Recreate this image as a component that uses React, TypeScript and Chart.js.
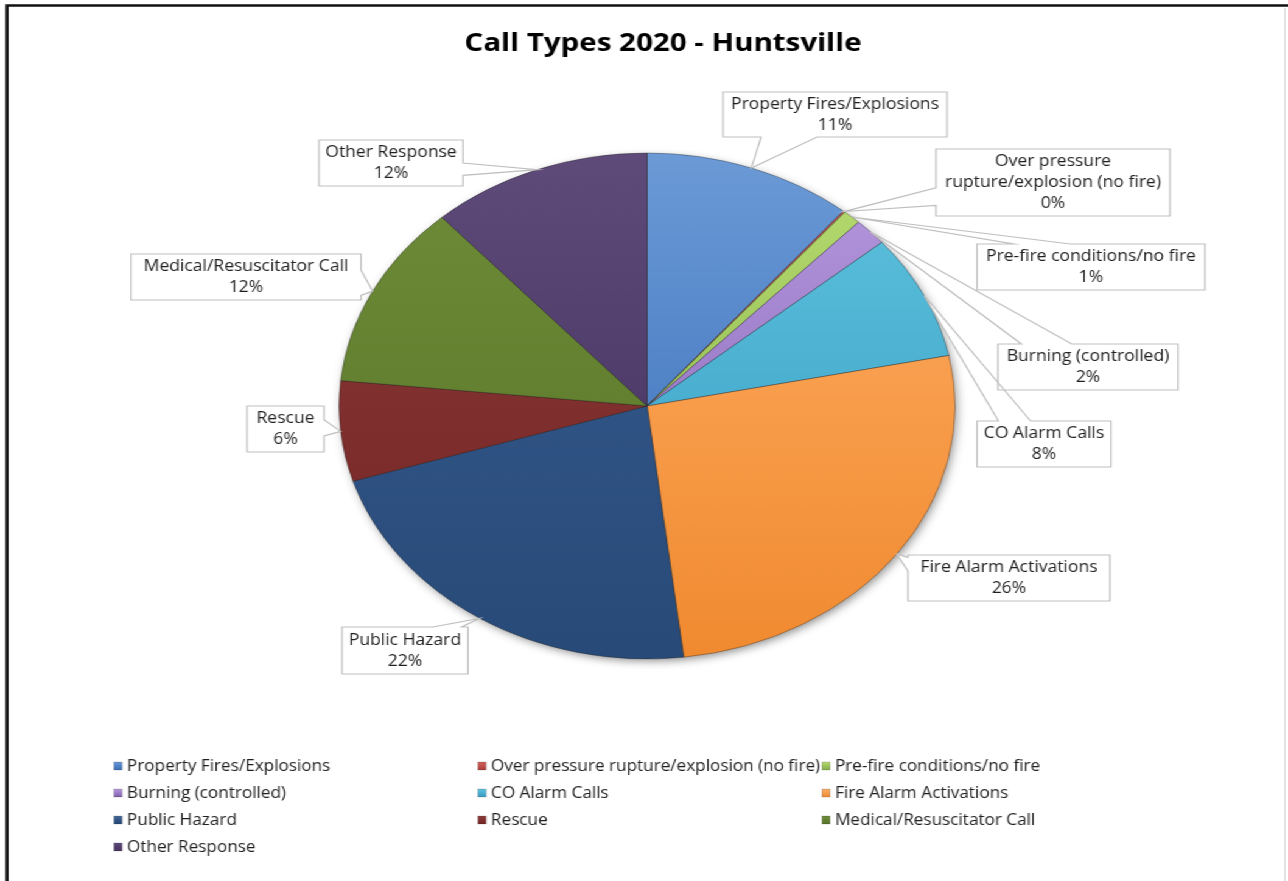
import React, { useEffect, useRef } from 'react';
import { Chart, registerables } from 'chart.js';

Chart.register(...registerables);

// ---- data ----
const TITLE = 'Call Types 2020 - Huntsville';
const CATEGORIES = [
  'Property Fires/Explosions',
  'Over pressure rupture/explosion (no fire)',
  'Pre-fire conditions/no fire',
  'Burning (controlled)',
  'CO Alarm Calls',
  'Fire Alarm Activations',
  'Public Hazard',
  'Rescue',
  'Medical/Resuscitator Call',
  'Other Response',
];
const VALUES = [11.0, 0.1, 0.95, 1.75, 8.0, 26.3, 22.1, 6.4, 11.8, 11.6];
const CALLOUT_NAMES = [
  'Property Fires/Explosions',
  'Over pressure\nrupture/explosion (no fire)',
  'Pre-fire conditions/no fire',
  'Burning (controlled)',
  'CO Alarm Calls',
  'Fire Alarm Activations',
  'Public Hazard',
  'Rescue',
  'Medical/Resuscitator Call',
  'Other Response',
];

// ---- styles ----
const COLORS = [
  ['#6b9ad6', '#4f81c6', '#3d6eb4'],
  ['#d0605c', '#c0504d', '#a83c3a'],
  ['#b8dc72', '#9bc45a', '#86ae48'],
  ['#b89ae0', '#9a7cc8', '#7d60a8'],
  ['#5ec3de', '#4aaed0', '#3b9bbf'],
  ['#fbb06a', '#f89c4a', '#f08a30'],
  ['#4a6c9a', '#2f5384', '#284a78'],
  ['#8e3e3c', '#7f2f2d', '#742624'],
  ['#6f8c3a', '#62802f', '#57722a'],
  ['#5e4b7a', '#4f3c6a', '#473563'],
];

// ---- layout (reference pixel space; canvas is stretched horizontally by SX) ----
const SX = 1.2174;
const W = 1058;
const H = 881;
const FONT = '"Open Sans", "DejaVu Sans", sans-serif';
const CALLOUTS = [
  { x: 723, y: 92, w: 224, h: 45, side: 'bottom', a0: 0.17, a1: 0.42 },
  { x: 936, y: 149, w: 234, h: 67, side: 'left', a0: 0.58, a1: 0.84 },
  { x: 977, y: 244, w: 228, h: 46, side: 'top', a0: 0.16, a1: 0.41 },
  { x: 998, y: 344, w: 180, h: 46, side: 'top', a0: 0.13, a1: 0.41 },
  { x: 977, y: 421, w: 134, h: 46, side: 'top', a0: 0.16, a1: 0.4 },
  { x: 908, y: 555, w: 202, h: 46, side: 'left', a0: 0.05, a1: 0.35 },
  { x: 342, y: 627, w: 126, h: 47, side: 'top', a0: 0.72, a1: 0.95 },
  { x: 247, y: 406, w: 77, h: 46, side: 'right', a0: 0.3, a1: 0.65 },
  { x: 131, y: 254, w: 230, h: 46, side: 'right', a0: 0.35, a1: 0.9 },
  { x: 319, y: 140, w: 144, h: 46, side: 'right', a0: 0.5, a1: 0.77 },
];
const LEGEND_COLS = [114, 478, 822];
const LEGEND_ROWS = [766, 793, 820, 847];

function sliceGradient(ctx: CanvasRenderingContext2D, i: number, top: number, bottom: number) {
  const g = ctx.createLinearGradient(0, top, 0, bottom);
  g.addColorStop(0, COLORS[i][0]);
  g.addColorStop(0.5, COLORS[i][1]);
  g.addColorStop(1, COLORS[i][2]);
  return g;
}

function condensedText(ctx: CanvasRenderingContext2D, t: string, x: number, y: number, k: number) {
  ctx.save();
  ctx.translate(x, y);
  ctx.scale(k, 1);
  ctx.fillText(t, 0, 0);
  ctx.restore();
}

function calloutPath(ctx: CanvasRenderingContext2D, b: any, tx: number, ty: number) {
  const x = b.x / SX, y = b.y, w = b.w / SX, h = b.h;
  ctx.beginPath();
  ctx.moveTo(x, y);
  if (b.side === 'top') {
    ctx.lineTo(x + w * b.a0, y);
    ctx.lineTo(tx, ty);
    ctx.lineTo(x + w * b.a1, y);
  }
  ctx.lineTo(x + w, y);
  if (b.side === 'right') {
    ctx.lineTo(x + w, y + h * b.a0);
    ctx.lineTo(tx, ty);
    ctx.lineTo(x + w, y + h * b.a1);
  }
  ctx.lineTo(x + w, y + h);
  if (b.side === 'bottom') {
    ctx.lineTo(x + w * b.a1, y + h);
    ctx.lineTo(tx, ty);
    ctx.lineTo(x + w * b.a0, y + h);
  }
  ctx.lineTo(x, y + h);
  if (b.side === 'left') {
    ctx.lineTo(x, y + h * b.a1);
    ctx.lineTo(tx, ty);
    ctx.lineTo(x, y + h * b.a0);
  }
  ctx.closePath();
}

const decoPlugin = {
  id: 'deco',
  beforeDraw(chart: any) {
    const ctx: CanvasRenderingContext2D = chart.ctx;
    ctx.save();
    ctx.fillStyle = '#ffffff';
    ctx.fillRect(0, 0, chart.width, chart.height);
    // frame
    ctx.strokeStyle = '#d9d9d9';
    ctx.lineWidth = 1;
    ctx.beginPath();
    ctx.moveTo(1285 / SX, 8);
    ctx.lineTo(1285 / SX, H);
    ctx.stroke();
    ctx.strokeStyle = '#111111';
    ctx.lineWidth = 2.6;
    ctx.beginPath();
    ctx.moveTo(7 / SX, H);
    ctx.lineTo(7 / SX, 5.5);
    ctx.lineTo(W, 5.5);
    ctx.stroke();
    // title
    ctx.fillStyle = '#000000';
    ctx.font = `bold 25px ${FONT}`;
    ctx.textAlign = 'center';
    ctx.textBaseline = 'middle';
    condensedText(ctx, TITLE, 663 / SX, 44, 0.97);
    ctx.restore();
  },
  beforeDatasetsDraw(chart: any) {
    const arc = chart.getDatasetMeta(0).data[0];
    if (!arc) return;
    const ctx: CanvasRenderingContext2D = chart.ctx;
    ctx.save();
    ctx.shadowColor = 'rgba(0,0,0,0.45)';
    ctx.shadowBlur = 9;
    ctx.shadowOffsetX = 2;
    ctx.shadowOffsetY = 3;
    ctx.beginPath();
    ctx.arc(arc.x, arc.y, arc.outerRadius - 1, 0, Math.PI * 2);
    ctx.fillStyle = '#777777';
    ctx.fill();
    ctx.restore();
  },
  afterDatasetsDraw(chart: any) {
    const ctx: CanvasRenderingContext2D = chart.ctx;
    const arcs = chart.getDatasetMeta(0).data;
    const data: number[] = chart.data.datasets[0].data;
    const total = data.reduce((a, b) => a + b, 0);
    const tips = arcs.map((a: any) => {
      const mid = (a.startAngle + a.endAngle) / 2;
      return [a.x + Math.cos(mid) * a.outerRadius, a.y + Math.sin(mid) * a.outerRadius];
    });
    ctx.save();
    CALLOUTS.forEach((b, i) => {
      calloutPath(ctx, b, tips[i][0], tips[i][1]);
      ctx.fillStyle = '#ffffff';
      ctx.fill();
    });
    CALLOUTS.forEach((b, i) => {
      calloutPath(ctx, b, tips[i][0], tips[i][1]);
      ctx.strokeStyle = '#bfbfbf';
      ctx.lineWidth = 1.2;
      ctx.stroke();
    });
    ctx.fillStyle = '#1f1f1f';
    ctx.font = `16px ${FONT}`;
    ctx.textAlign = 'center';
    ctx.textBaseline = 'middle';
    CALLOUTS.forEach((b, i) => {
      const lines = CALLOUT_NAMES[i].split('\n');
      lines.push(Math.round((data[i] / total) * 100) + '%');
      const lh = 21;
      const cx = (b.x + b.w / 2) / SX;
      const cy = b.y + b.h / 2;
      const y0 = cy - ((lines.length - 1) * lh) / 2;
      lines.forEach((t, k) => condensedText(ctx, t, cx, y0 + k * lh, 0.9));
    });
    ctx.restore();
  },
  afterDraw(chart: any) {
    const ctx: CanvasRenderingContext2D = chart.ctx;
    const labels: string[] = chart.data.labels;
    ctx.save();
    ctx.font = `16px ${FONT}`;
    ctx.textAlign = 'left';
    ctx.textBaseline = 'middle';
    labels.forEach((lab, i) => {
      const col = i % 3;
      const row = Math.floor(i / 3);
      const mx = LEGEND_COLS[col] / SX;
      const my = LEGEND_ROWS[row];
      const mw = 8 / SX;
      ctx.fillStyle = sliceGradient(ctx, i, my - 4, my + 4);
      ctx.fillRect(mx, my - 4, mw, 8);
      ctx.strokeStyle = 'rgba(0,0,0,0.25)';
      ctx.lineWidth = 0.6;
      ctx.strokeRect(mx, my - 4, mw, 8);
      ctx.fillStyle = '#1f1f1f';
      condensedText(ctx, lab, (LEGEND_COLS[col] + 13) / SX, my, 0.88);
    });
    ctx.restore();
  },
};

export default function App() {
  const ref = useRef<HTMLCanvasElement | null>(null);
  useEffect(() => {
    if (!ref.current) return;
    const chart = new Chart(ref.current, {
      type: 'pie',
      data: {
        labels: CATEGORIES,
        datasets: [
          {
            data: VALUES,
            radius: 253,
            backgroundColor: (c: any) => {
              const area = c.chart.chartArea;
              if (!area) return COLORS[c.dataIndex][1];
              return sliceGradient(c.chart.ctx, c.dataIndex, area.top, area.bottom);
            },
            borderColor: 'rgba(30,30,30,0.35)',
            borderWidth: 1,
            hoverOffset: 0,
            offset: 0,
          } as any,
        ],
      },
      options: {
        responsive: false,
        animation: false,
        devicePixelRatio: 1,
        events: [],
        layout: { padding: { top: 153, bottom: 222, left: 231, right: 226 } },
        plugins: {
          legend: { display: false },
          title: { display: false },
          tooltip: { enabled: false },
        },
      },
      plugins: [decoPlugin],
    });
    return () => chart.destroy();
  }, []);
  return (
    <div
      style={{
        position: 'absolute',
        left: 0,
        top: 0,
        width: W,
        height: H,
        transform: `scaleX(${SX})`,
        transformOrigin: '0 0',
        background: '#fff',
      }}
    >
      <canvas ref={ref} width={W} height={H} style={{ display: 'block' }} />
    </div>
  );
}
